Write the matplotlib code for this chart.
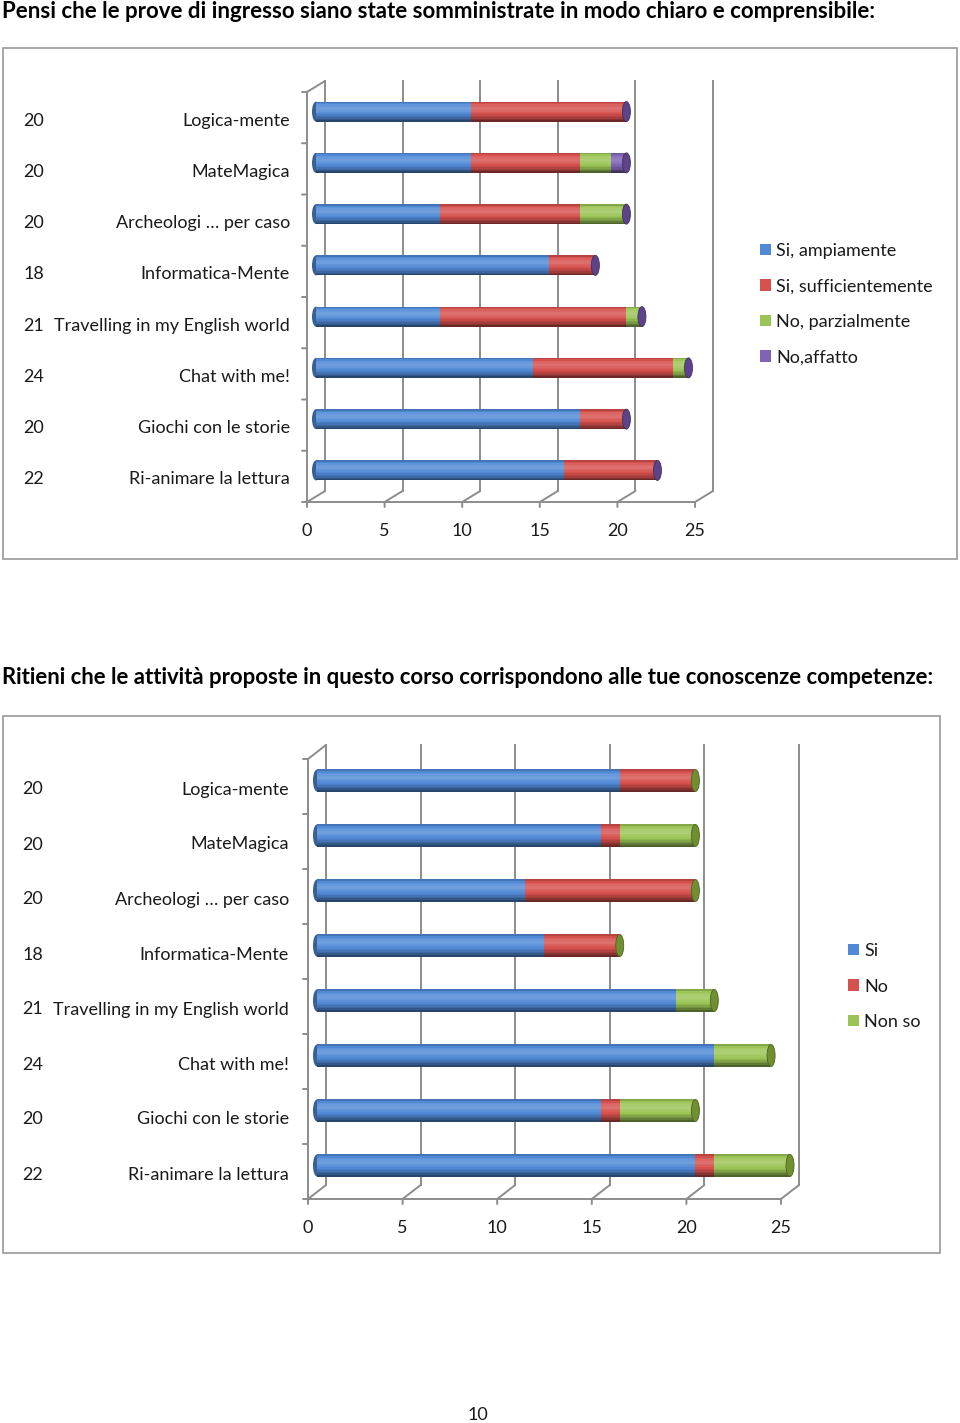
import matplotlib
matplotlib.use("Agg")
import matplotlib.pyplot as plt
from matplotlib.patches import Rectangle, Ellipse, Patch
from matplotlib import transforms
import numpy as np

# ---------------- data ----------------
categories = ["Logica-mente", "MateMagica", "Archeologi \u2026 per caso", "Informatica-Mente",
              "Travelling in my English world", "Chat with me!", "Giochi con le storie",
              "Ri-animare la lettura"]
respondents = ["20", "20", "20", "18", "21", "24", "20", "22"]

title1 = "Pensi che le prove di ingresso siano state somministrate in modo chiaro e comprensibile:"
series1_names = ["Si, ampiamente", "Si, sufficientemente", "No, parzialmente", "No,affatto"]
s1_ampiamente = [10, 10, 8, 15, 8, 14, 17, 16]
s1_sufficiente = [10, 7, 9, 3, 12, 9, 3, 6]
s1_parziale = [0, 2, 3, 0, 1, 1, 0, 0]
s1_affatto = [0, 1, 0, 0, 0, 0, 0, 0]

title2 = "Ritieni che le attivit\u00e0 proposte in questo corso corrispondono alle tue conoscenze competenze:"
series2_names = ["Si", "No", "Non so"]
s2_si = [16, 15, 11, 12, 19, 21, 15, 20]
s2_no = [4, 1, 9, 4, 0, 0, 1, 1]
s2_nonso = [0, 4, 0, 0, 2, 3, 4, 4]

xticks = [0, 5, 10, 15, 20, 25]

colors1 = ["#5089d6", "#d6504d", "#9bc456", "#8064b4"]
colors2 = ["#5089d6", "#d6504d", "#9bc456"]

FONT = "Lato"
W, H = 960, 1423
fig = plt.figure(figsize=(W / 100, H / 100), dpi=100)
fig.patch.set_facecolor("white")

GRID = "#8c8c8c"
TXT = "#1a1a1a"


def shade(c, f):
    c = np.array(matplotlib.colors.to_rgb(c))
    if f >= 1:
        return tuple(c + (1 - c) * (f - 1))
    return tuple(c * f)


def px_axes(left, top, right, bottom):
    return fig.add_axes([left / W, 1 - bottom / H, (right - left) / W, (bottom - top) / H])


def draw_chart(ax, series, colors, cap_color, back, bar_off, bar_px, cap_px,
               num_x, name_x, tick_dy, row_px):
    n = len(categories)
    ybot, ytop = n - 0.5, -0.5
    ax.set_xlim(0, 25)
    ax.set_ylim(ybot, ytop)
    ax.axis("off")
    back_tr = transforms.offset_copy(ax.transData, fig=fig, x=back[0], y=back[1], units="dots")
    bar_tr = transforms.offset_copy(ax.transData, fig=fig, x=bar_off[0], y=bar_off[1], units="dots")
    lw = 1.4
    seg = dict(arrowstyle="-", color=GRID, lw=lw, shrinkA=0, shrinkB=0)
    # back gridlines
    for v in xticks:
        ax.plot([v, v], [ybot, ytop], transform=back_tr, color=GRID, lw=lw, clip_on=False, zorder=1)
    # left front wall
    ax.plot([0, 0], [ybot, ytop], color=GRID, lw=lw, clip_on=False, zorder=1)
    ax.annotate("", xy=(0, ytop), xytext=(back[0], back[1]), textcoords="offset pixels", arrowprops=seg)
    # left wall ticks
    for yb in np.arange(ytop, ybot + 0.01, 1.0):
        ax.annotate("", xy=(0, yb), xytext=(-5, 0), textcoords="offset pixels", arrowprops=seg)
    # floor
    ax.plot([0, 25], [ybot, ybot], color=GRID, lw=lw, clip_on=False, zorder=1)
    for v in xticks:
        ax.annotate("", xy=(v, ybot), xytext=(back[0], back[1]), textcoords="offset pixels", arrowprops=seg)
        ax.annotate("", xy=(v, ybot), xytext=(0, -5), textcoords="offset pixels", arrowprops=seg)
        ax.annotate(str(v), xy=(v, ybot), xytext=(0, -tick_dy), textcoords="offset pixels",
                    ha="center", va="center", fontsize=13, family=FONT, color=TXT)
    # bars (cylinders)
    y = np.arange(n)
    h = bar_px / row_px
    cap_w = cap_px / (ax.bbox.width / 25)
    totals = np.sum(np.array(series), axis=0)
    for yi in y:
        ax.add_patch(Ellipse((0, yi), cap_w, h, transform=bar_tr, facecolor=shade(colors[0], 0.7),
                             edgecolor="none", zorder=2, clip_on=False))
    N = 14
    prof_t = np.linspace(0, 1, N)
    profile = np.interp(prof_t, [0, 0.12, 0.35, 0.6, 0.85, 1.0], [0.85, 1.08, 1.2, 1.02, 0.75, 0.5])
    left = np.zeros(n)
    for vals, col in zip(series, colors):
        vals = np.array(vals, dtype=float)
        for k in range(N):
            off = -h / 2 + (k + 0.5) * h / N
            ax.barh(y + off, vals, left=left, height=h / N * 1.02, color=shade(col, profile[k]),
                    edgecolor="none", transform=bar_tr, zorder=3, clip_on=False)
        left = left + vals
    for yi, tot in zip(y, totals):
        ax.add_patch(Ellipse((tot, yi), cap_w, h, transform=bar_tr, facecolor=cap_color,
                             edgecolor=shade(cap_color, 0.7), lw=0.6, zorder=4, clip_on=False))
    # category labels
    tr = transforms.blended_transform_factory(fig.transFigure, ax.transData)
    tr = transforms.offset_copy(tr, fig=fig, x=0, y=-3, units="dots")
    for yi, cat, num in zip(y, categories, respondents):
        ax.text(num_x / W, yi, num, transform=tr, ha="center", va="center", fontsize=13,
                family=FONT, color=TXT)
        ax.text(name_x / W, yi, cat, transform=tr, ha="right", va="center", fontsize=13,
                family=FONT, color=TXT)


# Titles
fig.text(2 / W, 1 - 11 / H, title1, ha="left", va="center", fontsize=16, weight="bold", family=FONT)
fig.text(2 / W, 1 - 678 / H, title2, ha="left", va="center", fontsize=15.9, weight="bold", family=FONT)

# Frames
fig.patches.append(Rectangle((3 / W, 1 - 559 / H), 954 / W, 511 / H, transform=fig.transFigure,
                             fill=False, edgecolor="#a0a0a0", lw=1.3))
fig.patches.append(Rectangle((3 / W, 1 - 1253 / H), 937 / W, 537 / H, transform=fig.transFigure,
                             fill=False, edgecolor="#a0a0a0", lw=1.3))

legend_kw = dict(loc="upper left", frameon=False, prop={"family": FONT, "size": 13},
                 handlelength=0.6, handleheight=0.6, handletextpad=0.3, labelspacing=1.08,
                 borderpad=0, borderaxespad=0)

# Chart 1
ax1 = px_axes(307, 92, 695, 502)
draw_chart(ax1, [s1_ampiamente, s1_sufficiente, s1_parziale, s1_affatto], colors1, "#5c4488",
           back=(18, 11), bar_off=(9, 6), bar_px=20, cap_px=8, num_x=34, name_x=290,
           tick_dy=29, row_px=51.25)
h1 = [Patch(facecolor=c, edgecolor="none") for c in colors1]
l1 = fig.legend(h1, series1_names, bbox_to_anchor=(760 / W, 1 - 243 / H), **legend_kw)
for t in l1.get_texts():
    t.set_color(TXT)

# Chart 2
ax2 = px_axes(308, 759, 781, 1199)
draw_chart(ax2, [s2_si, s2_no, s2_nonso], colors2, "#6f8f30",
           back=(18, 14), bar_off=(9, 6), bar_px=22, cap_px=8, num_x=33, name_x=289,
           tick_dy=29, row_px=55)
h2 = [Patch(facecolor=c, edgecolor="none") for c in colors2]
l2 = fig.legend(h2, series2_names, bbox_to_anchor=(848 / W, 1 - 943 / H), **legend_kw)
for t in l2.get_texts():
    t.set_color(TXT)

# page number
fig.text(478 / W, 1 - 1415 / H, "10", ha="center", va="center", fontsize=13, family=FONT, color=TXT)

fig.savefig("out.png", dpi=100, facecolor="white")
